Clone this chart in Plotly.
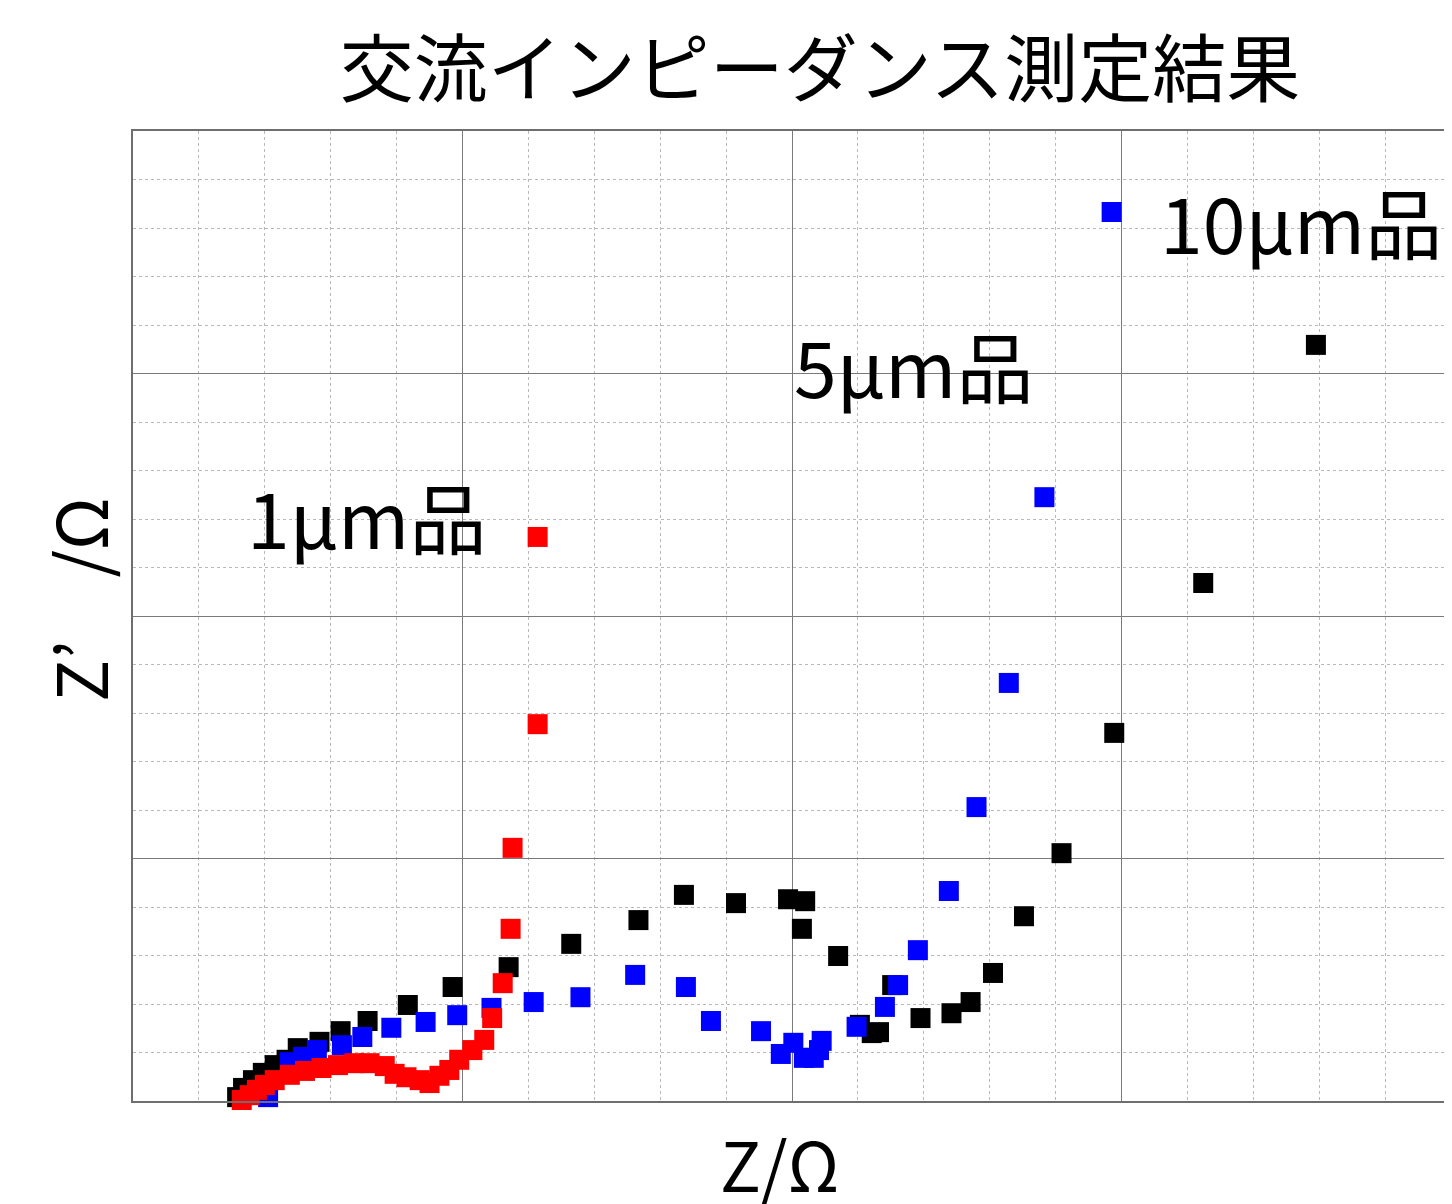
import plotly.graph_objects as go

# 1μm品 (red)
z_1um = [1.65, 1.73, 1.77, 1.88, 2.00, 2.15, 2.38, 2.61, 2.86, 3.11, 3.36, 3.59, 3.82,
         3.97, 4.15, 4.35, 4.50, 4.65, 4.80, 4.95, 5.15, 5.33, 5.45, 5.61, 5.73, 5.76,
         6.14, 6.14]
zi_1um = [0.02, -0.04, 0.12, 0.23, 0.33, 0.43, 0.54, 0.62, 0.68, 0.74, 0.78, 0.78, 0.72,
          0.56, 0.49, 0.43, 0.37, 0.52, 0.64, 0.85, 1.05, 1.26, 1.71, 2.43, 3.55, 5.22,
          7.77, 11.63]

# 5μm品 (black)
z_5um = [1.58, 1.67, 1.82, 1.97, 2.15, 2.33, 2.50, 2.83, 3.15, 3.56, 4.17, 4.85, 5.70,
         6.65, 7.67, 8.36, 9.15, 9.94, 10.20, 10.15, 10.70, 11.03, 11.21, 11.32, 11.52,
         11.95, 12.42, 12.71, 13.05, 13.52, 14.09, 14.89, 16.24, 17.95]
zi_5um = [0.08, 0.27, 0.43, 0.58, 0.74, 0.85, 1.09, 1.22, 1.44, 1.65, 1.98, 2.35, 2.76,
          3.24, 3.73, 4.25, 4.08, 4.16, 4.12, 3.55, 2.99, 1.57, 1.40, 1.42, 2.39,
          1.71, 1.81, 2.04, 2.64, 3.81, 5.11, 7.59, 10.68, 15.59]

# 10μm品 (blue)
z_10um = [1.95, 2.05, 2.38, 2.58, 2.79, 3.17, 3.48, 3.92, 4.44, 4.92, 5.44, 6.08, 6.79,
          7.62, 8.39, 8.77, 9.53, 9.83, 10.02, 10.18, 10.33, 10.41, 10.45, 10.98, 11.41,
          11.61, 11.91, 12.38, 12.80, 13.29, 13.83, 14.85]
zi_10um = [-0.06, 0.08, 0.80, 0.91, 1.05, 1.15, 1.32, 1.51, 1.63, 1.77, 1.92, 2.04, 2.14,
           2.60, 2.35, 1.65, 1.44, 0.97, 1.20, 0.89, 0.89, 1.05, 1.24, 1.53, 1.94,
           2.39, 3.11, 4.33, 6.06, 8.62, 12.45, 18.33]

labels = ["1μm品", "5μm品", "10μm品"]
label_x = [1.70, 10.0, 15.56]
label_y = [12.08, 15.18, 18.16]

FONT = "Noto Sans CJK JP"
W, H = 1445, 1196  # page body adds an 8px margin

fig = go.Figure()
for xs, ys, color in [(z_5um, zi_5um, "black"), (z_10um, zi_10um, "blue"), (z_1um, zi_1um, "red")]:
    fig.add_trace(go.Scatter(
        x=xs, y=ys, mode="markers", cliponaxis=False, showlegend=False,
        marker=dict(symbol="square", size=20, color=color, line=dict(width=0))
    ))

for txt, x, y in zip(labels, label_x, label_y):
    fig.add_annotation(x=x, y=y, text=txt, showarrow=False, xanchor="left", yanchor="middle",
                       font=dict(family=FONT, size=77, color="black"))

# axis titles
fig.add_annotation(x=0.5, y=0, xref="paper", yref="paper", text="Z/Ω", showarrow=False,
                   xanchor="center", yanchor="middle", yshift=-61, xshift=-13,
                   font=dict(family=FONT, size=68, color="black"))
fig.add_annotation(x=0, y=0.5, xref="paper", yref="paper", text="Z’\u00a0\u00a0\u00a0\u00a0/Ω",
                   showarrow=False, textangle=-90, xanchor="center", yanchor="middle",
                   xshift=-56, yshift=16, font=dict(family=FONT, size=70, color="black"))

axis_common = dict(
    range=[0, 20], dtick=5, showticklabels=False, ticks="", zeroline=False,
    showgrid=True, gridcolor="#7a7a7a", gridwidth=1.2,
    minor=dict(dtick=1, showgrid=True, gridcolor="#b8b8b8", griddash="dot", gridwidth=1.2),
    showline=True, linecolor="#6e6e6e", linewidth=2, mirror=True, fixedrange=True,
)
fig.update_xaxes(**axis_common)
fig.update_yaxes(**axis_common)

fig.update_layout(
    width=W, height=H,
    margin=dict(l=125, r=0, t=123, b=103),
    plot_bgcolor="white", paper_bgcolor="white",
    title=dict(text="交流インピーダンス測定結果", xref="container", yref="container",
               x=(820 - 8) / W, y=1 - (70 - 8) / H, xanchor="center", yanchor="middle",
               font=dict(family=FONT, size=74, color="black")),
)

fig.write_html("out.html")
